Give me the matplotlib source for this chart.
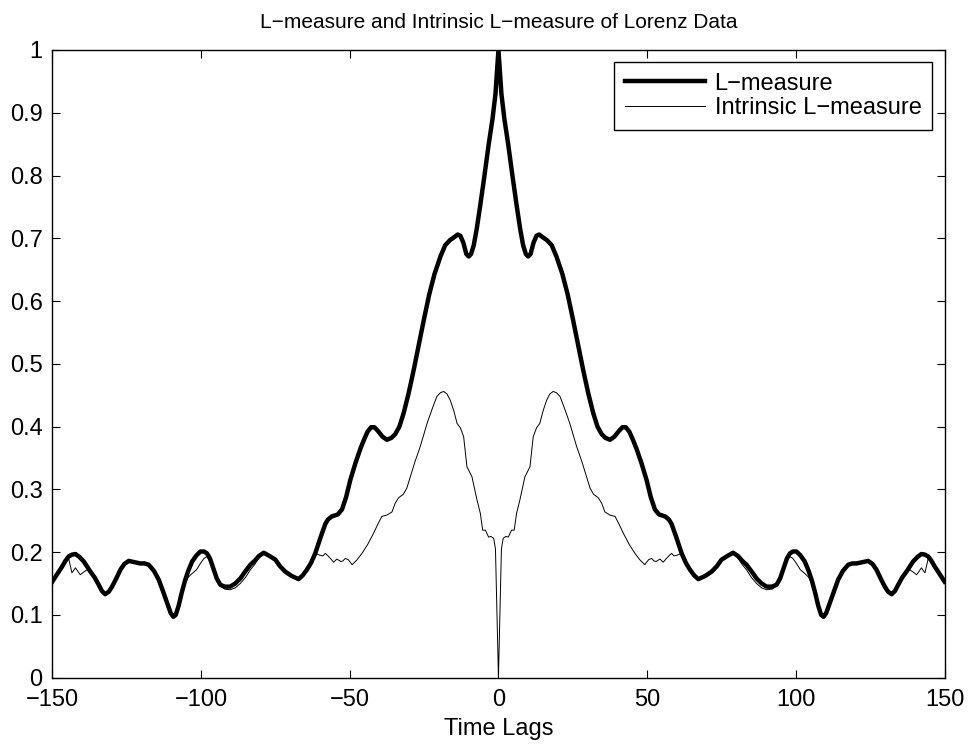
import numpy as np
import matplotlib.pyplot as plt

plt.rcParams['font.family'] = ['Liberation Sans', 'DejaVu Sans']

# lags >= 0 (both curves are symmetric about lag 0)
lags_l = [0, 1, 2, 3.3, 4.7, 6.1, 7.3, 8.3, 9.2, 10, 10.8, 11.8, 12.8, 13.7,
          14.8, 16.3, 17.9, 19.5, 21.5, 23.3, 25, 26.8, 28.5, 30.2, 31.9,
          33.3, 34.7, 36, 37.5, 39, 40.5, 41.7, 42.8, 44, 45.3, 46.4, 48,
          49.8, 51.2, 52.6, 54, 56, 57.3, 58.2, 59.7, 61.6, 63, 64.4, 65.8,
          67.2, 69.5, 71.7, 73.5, 75, 77, 78.9, 80.5, 82, 83.4, 85, 86.8,
          88.5, 90.2, 92, 93.5, 94.7, 95.7, 97, 98, 99, 100.2, 101.5, 103,
          104.3, 105.3, 106.5, 107.5, 108.5, 109.3, 110.2, 111.4, 112.8,
          114.2, 115.8, 117.6, 119, 120.4, 122.3, 124.3, 125.8, 127.1, 128.5,
          129.9, 131, 132.2, 133.3, 134.4, 135.8, 137.2, 138.3, 139.4, 140.8,
          142.2, 143.4, 144.5, 145.6, 146.7, 148.2, 150]
l_measure = [1.0, 0.93, 0.89, 0.849, 0.80, 0.753, 0.715, 0.689, 0.675, 0.671,
             0.675, 0.693, 0.704, 0.706, 0.702, 0.697, 0.689, 0.671, 0.643,
             0.610, 0.572, 0.530, 0.490, 0.453, 0.421, 0.400, 0.388, 0.382,
             0.379, 0.384, 0.393, 0.399, 0.399, 0.392, 0.378, 0.365, 0.343,
             0.315, 0.288, 0.268, 0.260, 0.257, 0.252, 0.245, 0.225, 0.198,
             0.183, 0.172, 0.163, 0.157, 0.162, 0.169, 0.178, 0.188, 0.194,
             0.199, 0.194, 0.186, 0.180, 0.170, 0.158, 0.150, 0.145, 0.145,
             0.148, 0.158, 0.172, 0.190, 0.198, 0.201, 0.201, 0.195, 0.185,
             0.170, 0.156, 0.135, 0.115, 0.100, 0.097, 0.103, 0.119, 0.138,
             0.156, 0.170, 0.180, 0.182, 0.182, 0.184, 0.186, 0.181, 0.172,
             0.158, 0.145, 0.137, 0.133, 0.138, 0.148, 0.160, 0.169, 0.177,
             0.185, 0.192, 0.197, 0.196, 0.193, 0.186, 0.177, 0.166, 0.153]

lags_i = [0, 1, 1.6, 2.5, 3.3, 4.4, 5.3, 6.1, 7.2, 8.9, 10.6, 11.7, 12.8,
          13.9, 15, 16.2, 17.3, 18.4, 19.5, 20.7, 22.3, 24, 26.3, 28, 29.5,
          30.8, 32, 33.5, 34.7, 35.8, 37.5, 39.2, 40.5, 42, 44, 45.9, 47.5,
          49.2, 50.5, 51.5, 52.3, 53, 54.3, 55.4, 56.5, 57.5, 58.2, 59, 60,
          61.6, 63, 64.4, 65.8, 67.2, 69.5, 71.7, 73.5, 75, 77, 78.9, 80.5,
          82, 83.4, 85, 86.8, 88.5, 90.2, 92, 93.5, 94.7, 95.7, 97, 98, 99,
          100.2, 101.5, 103, 104.3, 105.3, 106.5, 107.5, 108.5, 109.3, 110.2,
          111.4, 112.8, 114.2, 115.8, 117.6, 119, 120.4, 122.3, 124.3, 125.8,
          127.1, 128.5, 129.9, 131, 132.2, 133.3, 134.4, 135.8, 137.2, 138.3,
          139.5, 140.6, 141.5, 142.2, 143.4, 144.5, 145.6, 146.7, 148.2, 150]
intrinsic = [0.0, 0.205, 0.222, 0.225, 0.224, 0.235, 0.235, 0.262, 0.283,
             0.320, 0.336, 0.384, 0.398, 0.405, 0.425, 0.442, 0.452, 0.456,
             0.454, 0.448, 0.428, 0.405, 0.368, 0.345, 0.322, 0.302, 0.292,
             0.287, 0.278, 0.264, 0.259, 0.257, 0.245, 0.230, 0.212, 0.198,
             0.188, 0.180, 0.188, 0.190, 0.186, 0.185, 0.189, 0.184, 0.190,
             0.195, 0.198, 0.194, 0.195, 0.198, 0.183, 0.172, 0.163, 0.157,
             0.162, 0.169, 0.178, 0.187, 0.193, 0.197, 0.191, 0.180, 0.172,
             0.160, 0.150, 0.143, 0.140, 0.141, 0.146, 0.157, 0.170, 0.186,
             0.193, 0.190, 0.182, 0.172, 0.166, 0.160, 0.150, 0.132, 0.115,
             0.100, 0.097, 0.103, 0.119, 0.138, 0.156, 0.168, 0.178, 0.181,
             0.182, 0.184, 0.186, 0.181, 0.172, 0.158, 0.145, 0.137, 0.133,
             0.138, 0.148, 0.160, 0.167, 0.172, 0.168, 0.164, 0.170, 0.175,
             0.167, 0.190, 0.186, 0.177, 0.166, 0.155]

xticks = [-150, -100, -50, 0, 50, 100, 150]
xticklabels = ['\u2212150', '\u2212100', '\u221250', '0', '50', '100', '150']
yticks = [0, 0.1, 0.2, 0.3, 0.4, 0.5, 0.6, 0.7, 0.8, 0.9, 1]
yticklabels = ['0', '0.1', '0.2', '0.3', '0.4', '0.5', '0.6', '0.7', '0.8',
               '0.9', '1']


def mirror(lags, vals):
    lags = np.asarray(lags, dtype=float)
    vals = np.asarray(vals, dtype=float)
    return (np.concatenate([-lags[:0:-1], lags]),
            np.concatenate([vals[:0:-1], vals]))


x1, y1 = mirror(lags_l, l_measure)
x2, y2 = mirror(lags_i, intrinsic)

fig = plt.figure(figsize=(9.72, 7.47), dpi=100)
ax = fig.add_axes([0.0538, 0.0928, 0.918, 0.8403])

ax.plot(x1, y1, color='black', linewidth=3.2, solid_joinstyle='round',
        label='L\u2212measure')
ax.plot(x2, y2, color='black', linewidth=0.7, label='Intrinsic L\u2212measure')

ax.set_xlim(-150, 150)
ax.set_ylim(0, 1)
ax.set_xticks(xticks)
ax.set_xticklabels(xticklabels)
ax.set_yticks(yticks)
ax.set_yticklabels(yticklabels)
ax.tick_params(direction='in', length=6, width=0.8, labelsize=17,
               top=True, right=True)
ax.tick_params(axis='y', pad=7)
ax.tick_params(axis='x', pad=8)
for s in ax.spines.values():
    s.set_linewidth(1.0)

ax.set_title('L\u2212measure and Intrinsic L\u2212measure of Lorenz Data',
             fontsize=15, pad=16)
ax.set_xlabel('Time Lags', fontsize=17, labelpad=5)

leg = ax.legend(loc='upper right', bbox_to_anchor=(0.986, 0.981),
                fontsize=17, fancybox=False, framealpha=1, edgecolor='black',
                handlelength=3.4, borderaxespad=0, borderpad=0.45,
                labelspacing=0.1, handletextpad=0.4)
leg.get_frame().set_linewidth(1.0)

fig.savefig('out.png', dpi=100)
